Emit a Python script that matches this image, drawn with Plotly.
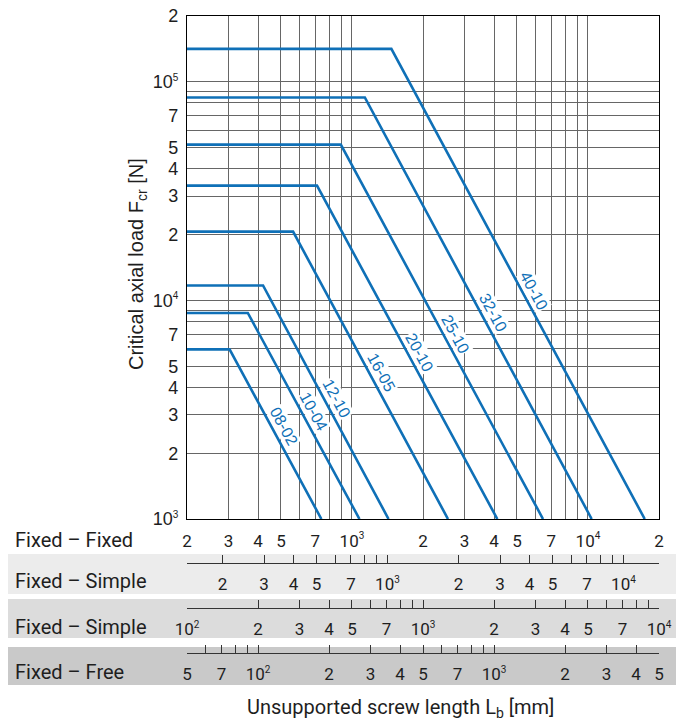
import numpy as np
import plotly.graph_objects as go

# ---------------- data ----------------
series_names = ["40-10", "32-10", "25-10", "20-10", "16-05", "12-10", "10-04", "08-02"]
plateau_load = [141400, 84800, 51600, 33500, 20640, 11700, 8760, 5970]     # N
break_length = [1469, 1134, 897, 711, 563, 420, 362, 303]                  # mm (Fixed-Fixed)
end_length = [17400, 10370, 6450, 4130, 2552, 1429, 1076, 742]             # mm at 10^3 N
label_load = [10550, 8356, 6627, 5478, 4435, 3368, 2935, 2504]             # where labels sit
start_length = 200
min_load = 1000
max_load = 200000
max_length = 20000


def p10(n):
    return "10<sup><span style='font-size:10px'>%d</span></sup>" % n


ff_ticks = [200, 300, 400, 500, 600, 700, 800, 900, 1000, 2000, 3000, 4000, 5000,
            6000, 7000, 8000, 9000, 10000, 20000]
ff_text = ["2", "3", "4", "5", "", "7", "", "", p10(3), "2", "3", "4", "5",
           "", "7", "", "", p10(4), "2"]

fs1_ticks = [200, 300, 400, 500, 600, 700, 800, 900, 1000, 2000, 3000, 4000, 5000,
             6000, 7000, 8000, 9000, 10000]
fs1_text = ["2", "3", "4", "5", "", "7", "", "", p10(3), "2", "3", "4", "5",
            "", "7", "", "", p10(4)]

fs2_ticks = [100, 200, 300, 400, 500, 600, 700, 800, 900, 1000, 2000, 3000, 4000, 5000,
             6000, 7000, 8000, 9000, 10000]
fs2_text = [p10(2), "2", "3", "4", "5", "", "7", "", "", p10(3),
            "2", "3", "4", "5", "", "7", "", "", p10(4)]

fr_ticks = [50, 60, 70, 80, 90, 100, 200, 300, 400, 500, 600, 700, 800, 900, 1000,
            2000, 3000, 4000, 5000]
fr_text = ["5", "", "7", "", "", p10(2), "2", "3", "4", "5", "", "7", "", "",
           p10(3), "2", "3", "4", "5"]

y_ticks = [1000, 2000, 3000, 4000, 5000, 6000, 7000, 8000, 9000,
           10000, 20000, 30000, 40000, 50000, 60000, 70000, 80000, 90000,
           100000, 200000]
y_text = [p10(3), "2", "3", "4", "5", "", "7", "", "",
          p10(4), "2", "3", "4", "5", "", "7", "", "",
          p10(5), "2"]

row_names = ["Fixed \u2013 Fixed", "Fixed \u2013 Simple", "Fixed \u2013 Simple", "Fixed \u2013 Free"]
row_factors = [1.0, np.sqrt(2), 2.0, 4.0]   # length-scale factor vs Fixed-Fixed

# ---------------- layout geometry (pixels) ----------------
W, H = 677, 724
L_M, R_M, T_M, B_M = 187, 18, 16, 34
plot_h = H - T_M - B_M
plot_w = W - L_M - R_M


def py(px):
    return (H - B_M - px) / plot_h


def pxx(px):
    return (px - L_M) / plot_w


BLUE = "#0f70b7"
GRID = "#666666"
TXT = "#1e1e1e"
ROBOTO = "Roboto"
ARIAL = "Liberation Sans, Arial"

fig = go.Figure()

for name, p, b, e in zip(series_names, plateau_load, break_length, end_length):
    fig.add_trace(go.Scatter(
        x=[start_length, b, e], y=[p, p, min_load],
        mode="lines", line=dict(color=BLUE, width=2.6),
        name=name, showlegend=False, hoverinfo="skip"))

# dummy traces so that the overlaid length scales are drawn
axis_names = ["x2", "x3", "x4"]
for ax, f in zip(axis_names, row_factors[1:]):
    fig.add_trace(go.Scatter(
        x=[start_length / f, max_length / f], y=[min_load, min_load],
        xaxis=ax, yaxis="y", mode="markers", marker=dict(opacity=0),
        showlegend=False, hoverinfo="skip"))

# gray bands for the lower scales
band_px = [(554, 594, "#ececec"), (599, 638, "#dcdcdc"), (647, 685, "#c9c9c9")]
for y0, y1, c in band_px:
    fig.add_shape(type="rect", xref="paper", yref="paper",
                  x0=pxx(8), x1=pxx(676), y0=py(y1), y1=py(y0),
                  fillcolor=c, line=dict(width=0), layer="below")

# series labels along the lines
theta = np.deg2rad(61.6)
off = 11
for name, p, b, fl in zip(series_names, plateau_load, break_length, label_load):
    lx = b * np.sqrt(p / fl)
    fig.add_annotation(
        x=np.log10(lx), y=np.log10(fl), xref="x", yref="y",
        text=name, showarrow=False, textangle=61.6,
        xshift=off * np.sin(theta), yshift=off * np.cos(theta),
        font=dict(family=ARIAL, size=16, color=BLUE),
        bgcolor="white", borderpad=0)

# row names
row_y = [540, 581, 627, 672]
for nm, yy in zip(row_names, row_y):
    fig.add_annotation(x=pxx(13), y=py(yy), xref="paper", yref="paper",
                       text=nm, showarrow=False, xanchor="left", yanchor="middle",
                       font=dict(family=ROBOTO, size=20, color=TXT))

# axis titles
fig.add_annotation(x=pxx(400), y=py(708), xref="paper", yref="paper",
                   text="Unsupported screw length L<sub>b</sub> [mm]", showarrow=False,
                   xanchor="center", yanchor="middle",
                   font=dict(family=ROBOTO, size=20, color=TXT))
fig.add_annotation(x=pxx(137), y=py(264), xref="paper", yref="paper",
                   text="Critical axial load F<sub>cr</sub> [N]", showarrow=False,
                   textangle=-90, xanchor="center", yanchor="middle",
                   font=dict(family=ARIAL, size=20, color=TXT))

fig.update_layout(
    width=W, height=H,
    margin=dict(l=L_M, r=R_M, t=T_M, b=B_M, autoexpand=False),
    paper_bgcolor="white", plot_bgcolor="rgba(0,0,0,0)",
    xaxis=dict(type="log", range=[np.log10(start_length), np.log10(max_length)],
               tickvals=ff_ticks, ticktext=ff_text, ticks="",
               showgrid=True, gridcolor=GRID, gridwidth=1,
               showline=True, mirror=True, linecolor="black", linewidth=1.3,
               zeroline=False, anchor="y", ticklabelstandoff=6,
               tickfont=dict(family=ROBOTO, size=17, color=TXT)),
    yaxis=dict(type="log", range=[np.log10(min_load), np.log10(max_load)],
               domain=[py(519), 1],
               tickvals=y_ticks, ticktext=y_text, ticks="",
               showgrid=True, gridcolor=GRID, gridwidth=1,
               showline=True, mirror=True, linecolor="black", linewidth=1.3,
               zeroline=False, ticklabelstandoff=4,
               tickfont=dict(family=ARIAL, size=18, color=TXT)),
)

row_line_px = [563, 608, 653]
tick_sets = [(fs1_ticks, fs1_text), (fs2_ticks, fs2_text), (fr_ticks, fr_text)]
for ax, f, lp, (tv, tt) in zip(axis_names, row_factors[1:], row_line_px, tick_sets):
    fig.layout["xaxis" + ax[1:]] = dict(
        type="log", overlaying="x", anchor="free", position=py(lp), side="bottom",
        range=[np.log10(start_length / f), np.log10(max_length / f)],
        tickvals=tv, ticktext=tt, ticks="inside", ticklen=8, tickwidth=1,
        tickcolor="#333333", showgrid=False, zeroline=False,
        showline=True, linecolor="#333333", linewidth=1,
        ticklabelstandoff=6,
        tickfont=dict(family=ROBOTO, size=17, color=TXT))

fig.write_html("out.html")
